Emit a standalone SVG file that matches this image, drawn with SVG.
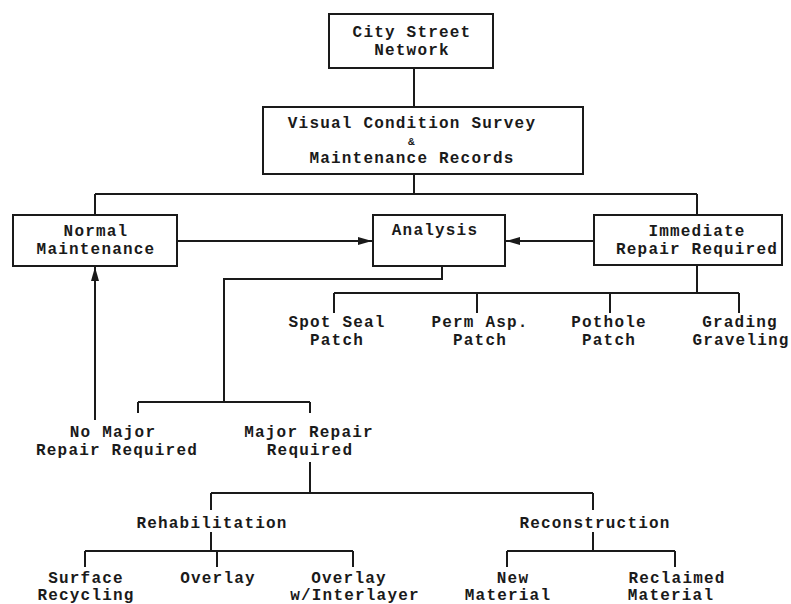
<svg xmlns="http://www.w3.org/2000/svg" width="791" height="604" viewBox="0 0 791 604">
<defs>
<style>
.t{font-family:"Liberation Mono","Courier New",monospace;font-size:16px;letter-spacing:1.2px;font-weight:bold;fill:#1a1a1a;text-anchor:middle}
.b{fill:#fff;stroke:#1a1a1a;stroke-width:2}
.c{fill:none;stroke:#1a1a1a;stroke-width:2}
</style>
<marker id="ah" viewBox="0 0 14 8" refX="14" refY="4" markerWidth="14" markerHeight="8" markerUnits="userSpaceOnUse" orient="auto">
<path d="M0,0 L14,4 L0,8 z" fill="#1a1a1a"/>
</marker>
</defs>
<rect width="791" height="604" fill="#fff"/>
<g id="connectors">
<path class="c" d="M414,68 V107"/>
<path class="c" d="M414,174 V194 M95,194 H697 M95,194 V215 M697,194 V215"/>
<path class="c" d="M177,241 H372" marker-end="url(#ah)"/>
<path class="c" d="M594,241 H506" marker-end="url(#ah)"/>
<path class="c" d="M697,265 V293 M334,293 H739 M334,293 V313 M477,293 V313 M610,293 V313 M739,293 V313"/>
<path class="c" d="M442,266 V279 H224 V402 M138,402 H310 M138,402 V413 M310,402 V413"/>
<path class="c" d="M95,420 V267" marker-end="url(#ah)"/>
<path class="c" d="M310,462 V493 M211,493 H593 M211,493 V510 M593,493 V510"/>
<path class="c" d="M211,532 V551 M85,551 H353 M85,551 V567 M217,551 V567 M353,551 V567"/>
<path class="c" d="M593,532 V551 M507,551 H675 M507,551 V567 M675,551 V567"/>
</g>
<g id="city"><rect class="b" x="329" y="14" width="164" height="54"/><text class="t" x="412" y="37">City Street</text><text class="t" x="412" y="55">Network</text></g>
<g id="survey"><rect class="b" x="263" y="107" width="320" height="67"/><text class="t" x="412" y="128">Visual Condition Survey</text><text class="t" x="412" y="145" style="font-size:11px">&amp;</text><text class="t" x="412" y="163">Maintenance Records</text></g>
<g id="normal"><rect class="b" x="13" y="215" width="164" height="51"/><text class="t" x="96" y="236">Normal</text><text class="t" x="96" y="254">Maintenance</text></g>
<g id="analysis"><rect class="b" x="373" y="215" width="132" height="51"/><text class="t" x="435" y="235">Analysis</text></g>
<g id="immediate"><rect class="b" x="594" y="215" width="188" height="50"/><text class="t" x="697" y="236">Immediate</text><text class="t" x="697" y="254">Repair Required</text></g>
<g id="spot"><text class="t" x="337" y="327">Spot Seal</text><text class="t" x="337" y="345">Patch</text></g>
<g id="perm"><text class="t" x="480" y="327">Perm Asp.</text><text class="t" x="480" y="345">Patch</text></g>
<g id="pothole"><text class="t" x="609" y="327">Pothole</text><text class="t" x="609" y="345">Patch</text></g>
<g id="grading"><text class="t" x="740" y="327">Grading</text><text class="t" x="741" y="345">Graveling</text></g>
<g id="nomajor"><text class="t" x="113" y="437">No Major</text><text class="t" x="117" y="455">Repair Required</text></g>
<g id="major"><text class="t" x="309" y="437">Major Repair</text><text class="t" x="310" y="455">Required</text></g>
<g id="rehab"><text class="t" x="212" y="528">Rehabilitation</text></g>
<g id="recon"><text class="t" x="595" y="528">Reconstruction</text></g>
<g id="surface"><text class="t" x="86" y="583">Surface</text><text class="t" x="86" y="600">Recycling</text></g>
<g id="overlay"><text class="t" x="218" y="583">Overlay</text></g>
<g id="overlayw"><text class="t" x="349" y="583">Overlay</text><text class="t" x="355" y="600">w/Interlayer</text></g>
<g id="new"><text class="t" x="513" y="583">New</text><text class="t" x="508" y="600">Material</text></g>
<g id="reclaimed"><text class="t" x="677" y="583">Reclaimed</text><text class="t" x="671" y="600">Material</text></g>
</svg>
